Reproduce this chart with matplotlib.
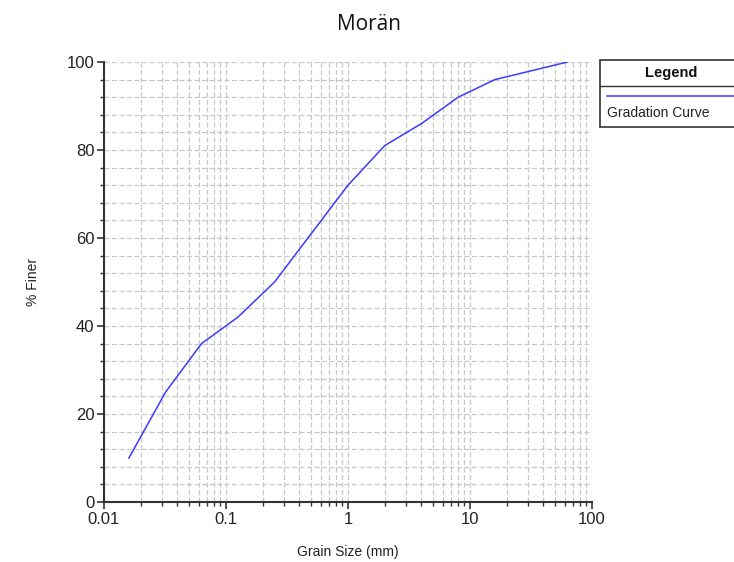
import matplotlib
matplotlib.use("Agg")
import matplotlib.pyplot as plt
from matplotlib.ticker import MultipleLocator, LogLocator, FixedLocator
from matplotlib.patches import Rectangle
from matplotlib.lines import Line2D

# gradation curve
grain_size = [0.016, 0.032, 0.063, 0.125, 0.25, 0.5, 1, 2, 4, 8, 16, 63]
pct_finer = [10, 25, 36, 42, 50, 61, 72, 81, 86, 92, 96, 100]
x_ticks = [0.01, 0.1, 1, 10, 100]
x_tick_labels = ["0.01", "0.1", "1", "10", "100"]
y_ticks = [0, 20, 40, 60, 80, 100]

W, H = 734, 562
fig = plt.figure(figsize=(W / 100, H / 100), dpi=100)
ax = fig.add_axes([104 / W, 1 - 502 / H, (592 - 104) / W, (502 - 62) / H])

ax.plot(grain_size, pct_finer, color="#3a3aff", lw=1.1, zorder=3)
ax.set_xscale("log")
ax.set_xlim(0.01, 100)
ax.set_ylim(0, 100)

ax.xaxis.set_major_locator(FixedLocator(x_ticks))
ax.set_xticklabels(x_tick_labels)
ax.xaxis.set_minor_locator(LogLocator(base=10, subs=range(2, 10)))
ax.set_yticks(y_ticks)
ax.yaxis.set_minor_locator(MultipleLocator(4))

grid_kw = dict(color="#c8c8c8", linestyle=(0, (4, 2)), linewidth=0.9)
ax.grid(True, which="both", **grid_kw)

for s in ["top", "right"]:
    ax.spines[s].set_visible(False)
for s in ["left", "bottom"]:
    ax.spines[s].set_color("#333333")
    ax.spines[s].set_linewidth(1.5)

ax.tick_params(which="major", length=5, width=1.2, color="#333333",
               labelsize=12, labelcolor="#222222", pad=2)
ax.tick_params(which="minor", length=3, width=1, color="#333333")
for lab in ax.get_xticklabels() + ax.get_yticklabels():
    lab.set_fontfamily("Liberation Sans")

ax.set_xlabel("Grain Size (mm)", fontsize=10, fontfamily="Liberation Sans",
              color="#222222")
ax.set_ylabel("% Finer", fontsize=10, fontfamily="Liberation Sans",
              color="#222222")
ax.xaxis.set_label_coords(0.5, (502 - 552) / 440, transform=ax.transAxes)
ax.yaxis.set_label_coords((33 - 104) / 488, 0.5, transform=ax.transAxes)
ax.xaxis.label.set_va("center")
ax.yaxis.label.set_va("center")

fig.text(369 / W, 1 - 25 / H, "Morän", ha="center", va="center",
         fontsize=15, fontfamily="Open Sans", color="#111111")

# legend box drawn in figure pixels
def fx(px):
    return px / W

def fy(py):
    return 1 - py / H

fig.patches.append(Rectangle((fx(600), fy(127)), fx(740) - fx(600), fy(60) - fy(127),
                             transform=fig.transFigure, facecolor="white",
                             edgecolor="#333333", lw=1.2))
fig.lines.append(Line2D([fx(600), fx(740)], [fy(86), fy(86)],
                        transform=fig.transFigure, color="#333333", lw=1))
fig.lines.append(Line2D([fx(607), fx(734)], [fy(96), fy(96)],
                        transform=fig.transFigure, color="#3a3aff", lw=1.1))
fig.text(fx(671), fy(73), "Legend", ha="center", va="center", fontsize=10.5,
         fontweight="bold", fontfamily="Liberation Sans", color="#111111")
fig.text(fx(607), fy(113), "Gradation Curve", ha="left", va="center", fontsize=10,
         fontfamily="Liberation Sans", color="#222222")

fig.savefig("out.png", dpi=100)
